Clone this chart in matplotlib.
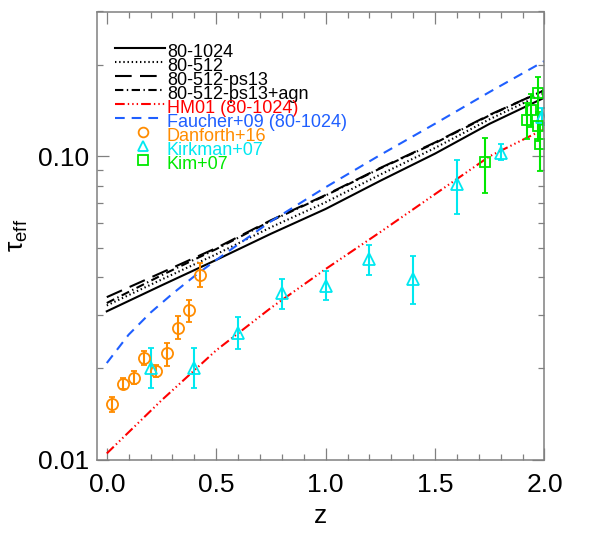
import numpy as np
import matplotlib.pyplot as plt

plt.rcParams['font.family'] = ['Liberation Sans', 'DejaVu Sans']
plt.rcParams['mathtext.fontset'] = 'custom'
plt.rcParams['mathtext.rm'] = 'Liberation Sans'
plt.rcParams['lines.scale_dashes'] = False

# simulation curves
z_sim = [0.0, 0.25, 0.5, 0.75, 1.0, 1.25, 1.5, 1.75, 2.0]
tau_1024 = [0.0308, 0.0375, 0.0455, 0.0555, 0.0670, 0.0830, 0.1020, 0.1280, 0.1560]
tau_512 = [0.0322, 0.0392, 0.0475, 0.0583, 0.0705, 0.0870, 0.1065, 0.1325, 0.1615]
tau_ps13 = [0.0343, 0.0413, 0.0498, 0.0615, 0.0745, 0.0915, 0.1110, 0.1370, 0.1650]
tau_agn = [0.0328, 0.0405, 0.0494, 0.0612, 0.0742, 0.0912, 0.1105, 0.1365, 0.1650]
tau_hm01 = [0.01047, 0.01567, 0.02291, 0.03162, 0.04246, 0.05623, 0.07499, 0.1000, 0.1230]

z_fg = [0.0, 0.1, 0.2, 0.3, 0.4, 0.5, 0.75, 1.0, 1.25, 1.5, 1.75, 2.0]
tau_fg = [0.0208, 0.0258, 0.0305, 0.0352, 0.0402, 0.0455, 0.061, 0.079, 0.101, 0.128, 0.163, 0.206]

# observations
z_dan = [0.023, 0.076, 0.125, 0.172, 0.225, 0.274, 0.324, 0.376, 0.426]
tau_dan = [0.0152, 0.0178, 0.0186, 0.0216, 0.0196, 0.0224, 0.0272, 0.0310, 0.0406]
lo_dan = [0.0143, 0.0171, 0.0177, 0.0205, 0.0187, 0.0204, 0.0249, 0.0284, 0.0370]
hi_dan = [0.0161, 0.0185, 0.0196, 0.0228, 0.0205, 0.0243, 0.0297, 0.0335, 0.0444]

z_kirk = [0.2, 0.4, 0.6, 0.8, 1.0, 1.2, 1.4, 1.6, 1.8, 1.99]
tau_kirk = [0.0200, 0.0200, 0.0262, 0.0353, 0.0372, 0.0458, 0.0394, 0.0807, 0.1026, 0.135]
lo_kirk = [0.0172, 0.0172, 0.0232, 0.0313, 0.0335, 0.0407, 0.0325, 0.0644, 0.0968, 0.127]
hi_kirk = [0.0233, 0.0233, 0.0295, 0.0395, 0.0418, 0.0511, 0.0470, 0.0968, 0.1097, 0.144]

z_kim = [1.73, 1.92, 1.94, 1.97, 1.97, 1.98]
tau_kim = [0.0956, 0.132, 0.142, 0.162, 0.126, 0.110]
lo_kim = [0.0755, 0.114, 0.125, 0.138, 0.112, 0.0893]
hi_kim = [0.1148, 0.150, 0.160, 0.182, 0.140, 0.128]

orange = '#FF8C00'
cyan = '#00E8F0'
green = '#00E800'
red = '#FF0000'
blue = '#1F5FFF'

fig = plt.figure(figsize=(5.98, 5.34), dpi=100)
ax = fig.add_axes([96.5 / 598, 1 - 459.5 / 534, 448 / 598, 448 / 534])

styles = [
    (tau_1024, 'k', '-', '80-1024'),
    (tau_512, 'k', (0, (1.0, 2.0)), '80-512'),
    (tau_ps13, 'k', (0, (12, 6)), '80-512-ps13'),
    (tau_agn, 'k', (0, (6, 2.5, 1, 2.5)), '80-512-ps13+agn'),
    (tau_hm01, red, (0, (7, 2.2, 1, 2.2, 1, 2.2, 1, 2.2)), 'HM01 (80-1024)'),
]
for tau, c, ls, lab in styles:
    ax.plot(z_sim, tau, color=c, ls=ls, lw=1.5)
ax.plot(z_fg, tau_fg, color=blue, ls=(0, (7, 5)), lw=1.5)

def obs(z, t, lo, hi, c, m, ms):
    t = np.array(t)
    yerr = [t - np.array(lo), np.array(hi) - t]
    ax.errorbar(z, t, yerr=yerr, fmt=m, mfc='none', mec=c, ms=ms, mew=1.3,
                ecolor=c, elinewidth=1.5, capsize=2.5, capthick=1.3)

obs(z_dan, tau_dan, lo_dan, hi_dan, orange, 'o', 8)
obs(z_kirk, tau_kirk, lo_kirk, hi_kirk, cyan, '^', 8)
obs(z_kim, tau_kim, lo_kim, hi_kim, green, 's', 7.5)

ax.set_yscale('log')
ax.set_xlim(-0.047, 2.0)
ax.set_ylim(0.01, 0.3)
ax.set_xticks([0, 0.5, 1.0, 1.5, 2.0])
ax.set_xticklabels(['0.0', '0.5', '1.0', '1.5', '2.0'])
ax.set_xticks(np.arange(0, 2.01, 0.1), minor=True)
ax.set_yticks([0.01, 0.1])
ax.set_yticklabels(['0.01', '0.10'])
ax.yaxis.set_minor_formatter(plt.NullFormatter())
ax.tick_params(which='both', direction='in', top=True, right=True,
               color='0.5', width=0.9, labelsize=19)
ax.tick_params(which='major', length=8.5)
ax.tick_params(which='minor', length=4.5)
ax.tick_params(axis='x', pad=10)
ax.tick_params(axis='y', pad=5)
for s in ax.spines.values():
    s.set_color('0.5')
    s.set_linewidth(1.1)

ax.set_xlabel('z', fontsize=19, labelpad=5)
ax.set_ylabel('τ$_{\\mathrm{eff}}$', fontsize=19, labelpad=6)

# legend drawn by hand to match the tight IDL layout
leg_labels = ['80-1024', '80-512', '80-512-ps13', '80-512-ps13+agn',
              'HM01 (80-1024)', 'Faucher+09 (80-1024)',
              'Danforth+16', 'Kirkman+07', 'Kim+07']
leg_colors = ['k', 'k', 'k', 'k', red, blue, orange, cyan, green]
leg_styles = [s[2] for s in styles] + [(0, (7, 5)), None, None, None]
leg_markers = [None] * 6 + ['o', '^', 's']
y0 = 0.918
dy = 0.0313
for i, lab in enumerate(leg_labels):
    yy = y0 - i * dy
    if leg_markers[i] is None:
        ax.plot([0.041, 0.153], [yy, yy], transform=ax.transAxes,
                color=leg_colors[i], ls=leg_styles[i], lw=1.5)
    else:
        ax.plot([0.104], [yy], transform=ax.transAxes, marker=leg_markers[i],
                mfc='none', mec=leg_colors[i], ms=7, mew=1.3)
    ax.text(0.157, yy - 0.0188, lab, transform=ax.transAxes, color=leg_colors[i],
            fontsize=13, va='baseline', ha='left')

fig.savefig('out.png', dpi=100)
